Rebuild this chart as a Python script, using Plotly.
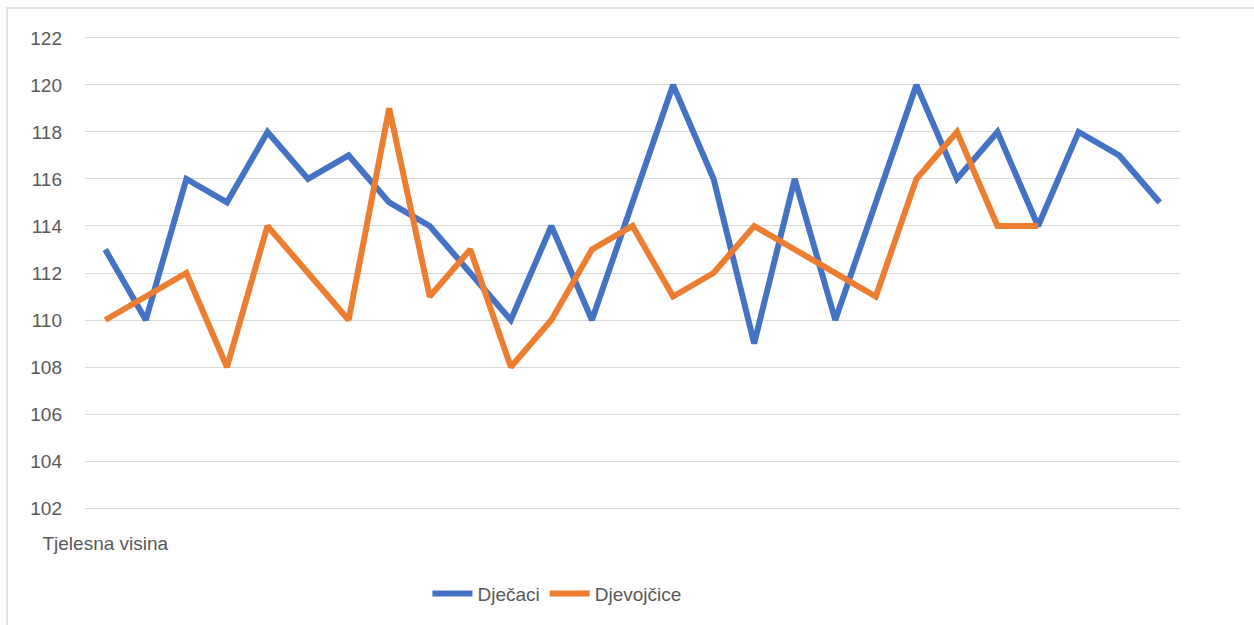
import plotly.graph_objects as go

categories = list(range(27))
tick_labels = ["Tjelesna visina"]
djecaci = [113, 110, 116, 115, 118, 116, 117, 115, 114, 112, 110, 114, 110, 115,
           120, 116, 109, 116, 110, 115, 120, 116, 118, 114, 118, 117, 115]
djevojcice = [110, 111, 112, 108, 114, 112, 110, 119, 111, 113, 108, 110, 113, 114,
              111, 112, 114, 113, 112, 111, 116, 118, 114, 114]

W, H = 1254, 625
L, R, T, B = 85, W - 1180, 36, H - 512
pw, ph = W - L - R, H - T - B

fig = go.Figure()
fig.add_trace(go.Scatter(x=categories[:len(djecaci)], y=djecaci, name="Dječaci",
                         mode="lines", line=dict(color="#4472C4", width=6)))
fig.add_trace(go.Scatter(x=categories[:len(djevojcice)], y=djevojcice, name="Djevojčice",
                         mode="lines", line=dict(color="#ED7D31", width=6)))

font = "Liberation Sans, Arial, sans-serif"
fig.update_layout(
    width=W, height=H,
    margin=dict(l=L, r=R, t=T, b=B),
    paper_bgcolor="white", plot_bgcolor="white",
    font=dict(family=font, size=19, color="#595959"),
    xaxis=dict(range=[-0.5, 26.5], tickvals=[0], ticktext=tick_labels,
               showgrid=False, zeroline=False, showline=False, ticks="",
               ticklabelstandoff=20, tickfont=dict(size=19, color="#595959")),
    yaxis=dict(range=[101.92, 122.08], tickvals=list(range(102, 123, 2)),
               showgrid=True, gridcolor="#D9D9D9",
               gridwidth=1.3, zeroline=False, showline=False, ticks="",
               ticklabelstandoff=22, tickfont=dict(size=19, color="#595959")),
    legend=dict(orientation="h", x=0.431, xanchor="center", y=(512 - 596) / ph,
                yanchor="middle", font=dict(size=19, color="#595959"),
                itemwidth=40, tracegroupgap=0),
    showlegend=True,
    shapes=[dict(type="rect", xref="paper", yref="paper",
                 x0=(7 - L) / pw, x1=(W + 10 - L) / pw,
                 y0=-(H + 10 - 512) / ph, y1=1 + (T - 8) / ph,
                 line=dict(color="#D9D9D9", width=1.5), layer="below")],
)

fig.write_html("out.html", config={"displayModeBar": False},
               post_script="document.body.style.margin='0';document.body.style.overflow='hidden';")
